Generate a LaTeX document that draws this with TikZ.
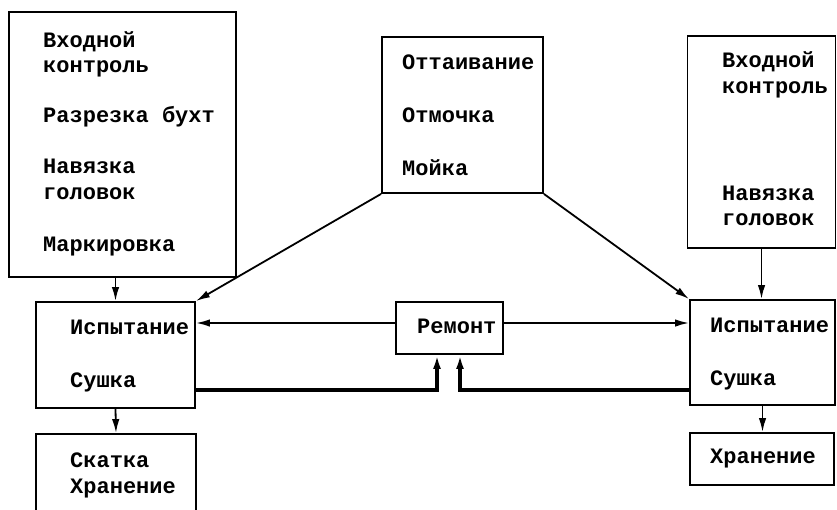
\documentclass[tikz,border=0pt]{standalone}
\usepackage{fontspec}
\setmainfont{Liberation Mono}
\usetikzlibrary{arrows.meta}
\begin{document}
\begin{tikzpicture}[x=1pt,y=-1pt,
  box/.style={draw, line width=1.9pt, rectangle, inner sep=0pt},
  lbl/.style={anchor=base west, inner sep=0pt, font=\fontsize{22}{26}\selectfont\bfseries},
  arr/.style={line width=1.8pt, -{Latex[length=14pt,width=7.5pt]}},
  heavy/.style={line width=3.2pt, -{Latex[length=14pt,width=8pt]}}]
\useasboundingbox (0,0) rectangle (837,509);
\clip (0,0) rectangle (837,509);

% boxes (centre, size)
\node[box, minimum width=227pt, minimum height=265pt] (A) at (122.5,144.5) {};
\node[box, minimum width=159pt, minimum height=106pt] (B) at (115.5,355) {};
\node[box, minimum width=160pt, minimum height=100pt] (C) at (116,484) {};
\node[box, minimum width=161pt, minimum height=156pt] (D) at (462.5,115) {};
\node[box, minimum width=148pt, minimum height=212pt] (E) at (761.5,142) {};
\node[box, minimum width=145pt, minimum height=105pt] (F) at (762.5,352.5) {};
\node[box, minimum width=144pt, minimum height=52pt] (G) at (762,459) {};
\node[box, minimum width=107pt, minimum height=52pt] (R) at (449.5,328) {};

% texts
\node[lbl] (a1) at (43,47) {Входной};
\node[lbl] (a2) at (43,72) {контроль};
\node[lbl] (a3) at (43,122) {Разрезка бухт};
\node[lbl] (a4) at (43,173) {Навязка};
\node[lbl] (a5) at (43,199) {головок};
\node[lbl] (a6) at (43,251) {Маркировка};

\node[lbl] (b1) at (70,334) {Испытание};
\node[lbl] (b2) at (70,387) {Сушка};

\node[lbl] (c1) at (70,467) {Скатка};
\node[lbl] (c2) at (70,493) {Хранение};

\node[lbl] (d1) at (402,69) {Оттаивание};
\node[lbl] (d2) at (402,122) {Отмочка};
\node[lbl] (d3) at (402,175) {Мойка};

\node[lbl] (e1) at (722,67) {Входной};
\node[lbl] (e2) at (722,93) {контроль};
\node[lbl] (e3) at (722,200) {Навязка};
\node[lbl] (e4) at (722,225) {головок};

\node[lbl] (f1) at (710,332) {Испытание};
\node[lbl] (f2) at (710,385) {Сушка};

\node[lbl] (g1) at (710,463) {Хранение};

\node[lbl] (r1) at (417,333) {Ремонт};

% vertical flow
\draw[arr] (B.north |- A.south) -- (B.north);
\draw[arr] (B.south) -- (C.north);
\draw[arr] (E.south) -- (E.south |- F.north);
\draw[arr] (F.south) -- (F.south |- G.north);

% from the washing box
\draw[arr] (D.south west) -- (B.north east);
\draw[arr] (D.south east) -- (F.north west);

% from repair
\coordinate (rl) at ([yshift=5pt]R.west);
\coordinate (rr) at ([yshift=5pt]R.east);
\draw[arr] (rl) -- (rl -| B.east);
\draw[arr] (rr) -- (rr -| F.west);

% back to repair
\draw[heavy] ([yshift=19pt]B.south east) -| ([xshift=-12.5pt]R.south);
\draw[heavy] ([yshift=16pt]F.south west) -| ([xshift=10.5pt]R.south);
\end{tikzpicture}
\end{document}
